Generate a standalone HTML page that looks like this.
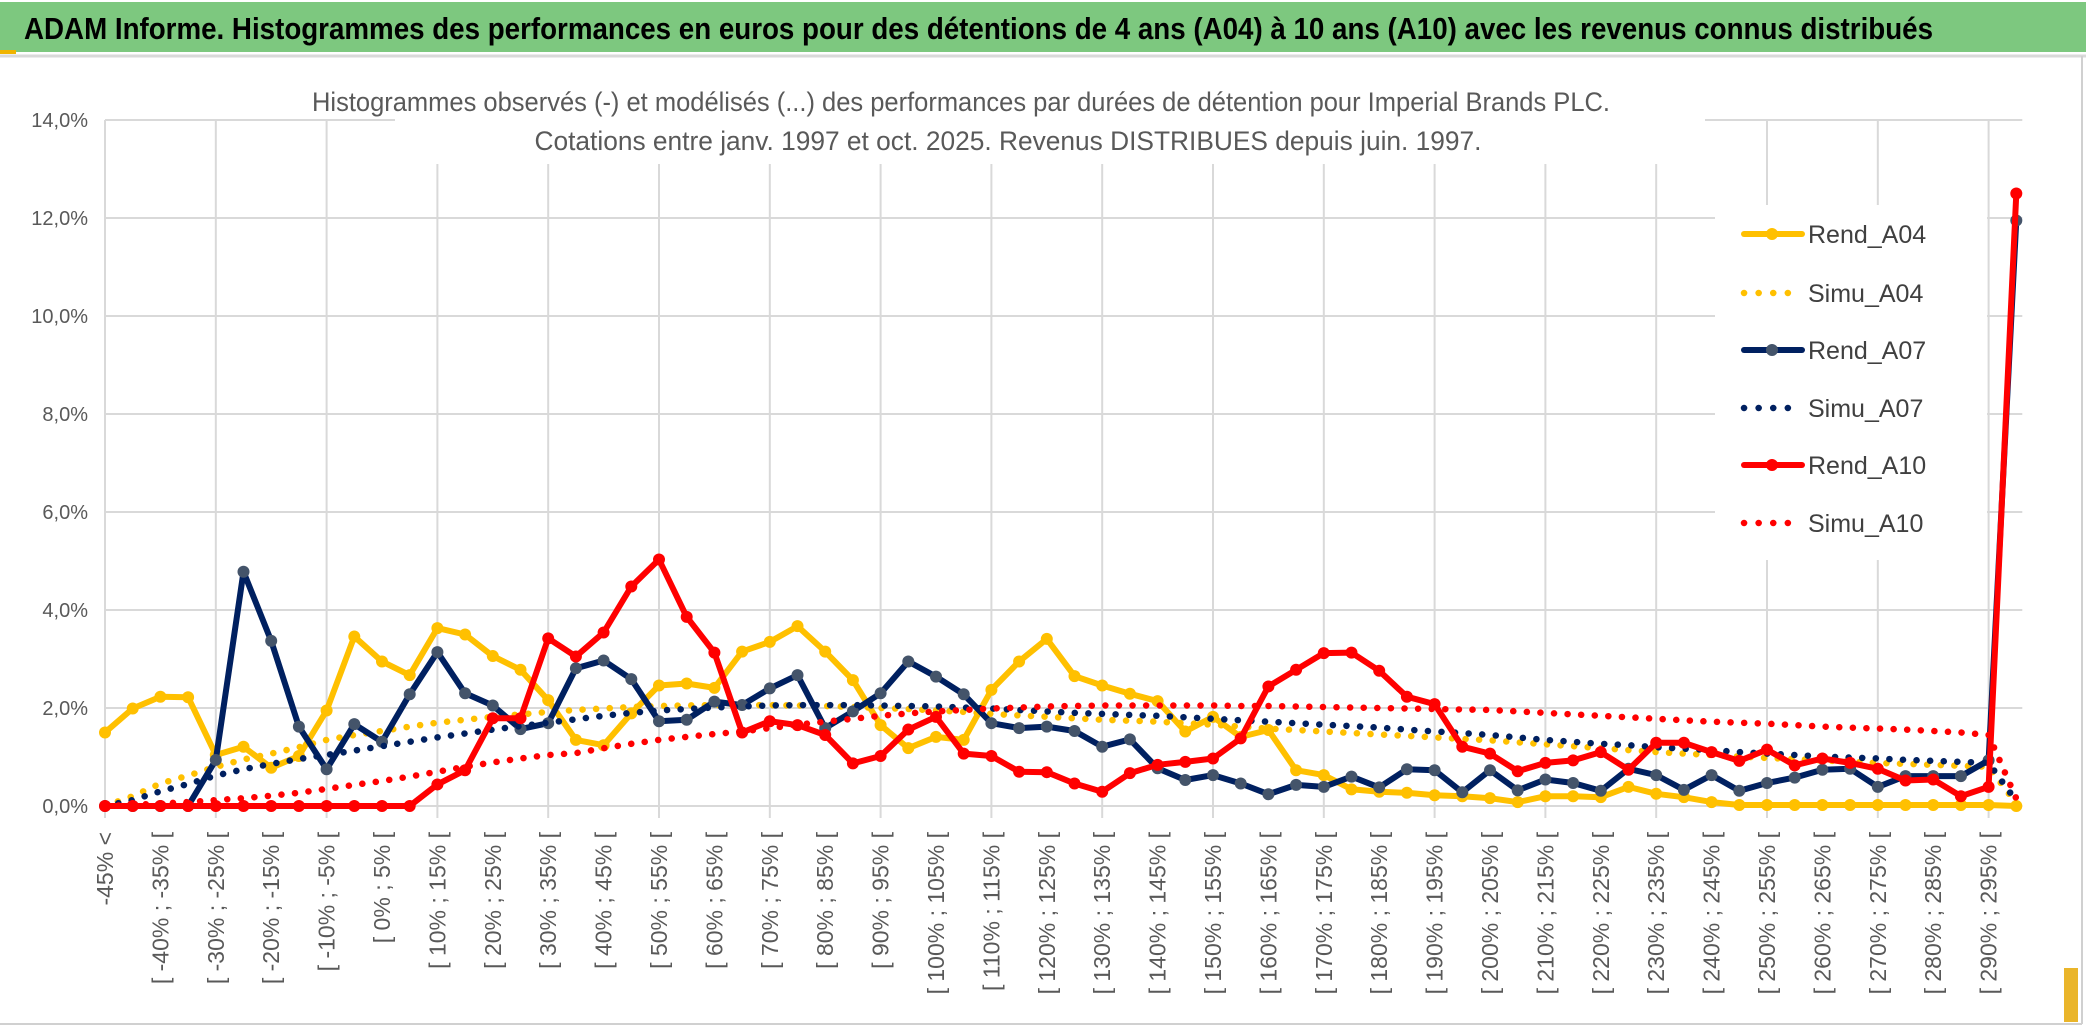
<!DOCTYPE html>
<html><head><meta charset="utf-8"><style>
html,body{margin:0;padding:0;background:#fff;width:2086px;height:1033px;overflow:hidden}
svg{display:block}
text{font-family:"Liberation Sans Narrow","Liberation Sans",sans-serif}
</style></head><body>
<svg id="chart" width="2086" height="1033" viewBox="0 0 2086 1033">
<rect x="0" y="0" width="2086" height="1033" fill="#fff"/>
<rect x="0" y="2" width="2086" height="50" fill="#7DC87F"/>
<line x1="0" y1="56" x2="2086" y2="56" stroke="#d9d9d9" stroke-width="3"/>
<rect x="0" y="50" width="16" height="4" fill="#f0b400"/>
<text x="24" y="39" font-size="31" font-weight="bold" fill="#000" textLength="1909" lengthAdjust="spacingAndGlyphs">ADAM Informe. Histogrammes des performances en euros pour des détentions de 4 ans (A04) à 10 ans (A10) avec les revenus connus distribués</text>
<line x1="2082" y1="56" x2="2082" y2="1024" stroke="#d0d0d0" stroke-width="2"/>
<line x1="0" y1="1024" x2="2082" y2="1024" stroke="#d0d0d0" stroke-width="2"/>
<rect x="2064" y="968" width="14" height="54" fill="#eab52a"/>
<g id="grid"></g>
<g id="yaxis"></g>
<g id="xaxis"></g>
<rect x="395" y="80" width="1310" height="84" fill="#fff"/>
<text x="961" y="111" font-size="27" fill="#595959" text-anchor="middle" textLength="1298" lengthAdjust="spacingAndGlyphs">Histogrammes observés (-) et modélisés (...) des performances par durées de détention pour Imperial Brands PLC.</text>
<text x="1008" y="150" font-size="27" fill="#595959" text-anchor="middle" textLength="947" lengthAdjust="spacingAndGlyphs">Cotations entre janv. 1997 et oct. 2025. Revenus DISTRIBUES depuis juin. 1997.</text>
<g id="series"></g>
<rect x="1715" y="205" width="272" height="355" fill="#fff"/>
<g id="legend"></g>
</svg>
<script>
const categories = ["-45% <","[ -45% ; -40% [","[ -40% ; -35% [","[ -35% ; -30% [","[ -30% ; -25% [","[ -25% ; -20% [","[ -20% ; -15% [","[ -15% ; -10% [","[ -10% ; -5% [","[ -5% ; 0% [","[ 0% ; 5% [","[ 5% ; 10% [","[ 10% ; 15% [","[ 15% ; 20% [","[ 20% ; 25% [","[ 25% ; 30% [","[ 30% ; 35% [","[ 35% ; 40% [","[ 40% ; 45% [","[ 45% ; 50% [","[ 50% ; 55% [","[ 55% ; 60% [","[ 60% ; 65% [","[ 65% ; 70% [","[ 70% ; 75% [","[ 75% ; 80% [","[ 80% ; 85% [","[ 85% ; 90% [","[ 90% ; 95% [","[ 95% ; 100% [","[ 100% ; 105% [","[ 105% ; 110% [","[ 110% ; 115% [","[ 115% ; 120% [","[ 120% ; 125% [","[ 125% ; 130% [","[ 130% ; 135% [","[ 135% ; 140% [","[ 140% ; 145% [","[ 145% ; 150% [","[ 150% ; 155% [","[ 155% ; 160% [","[ 160% ; 165% [","[ 165% ; 170% [","[ 170% ; 175% [","[ 175% ; 180% [","[ 180% ; 185% [","[ 185% ; 190% [","[ 190% ; 195% [","[ 195% ; 200% [","[ 200% ; 205% [","[ 205% ; 210% [","[ 210% ; 215% [","[ 215% ; 220% [","[ 220% ; 225% [","[ 225% ; 230% [","[ 230% ; 235% [","[ 235% ; 240% [","[ 240% ; 245% [","[ 245% ; 250% [","[ 250% ; 255% [","[ 255% ; 260% [","[ 260% ; 265% [","[ 265% ; 270% [","[ 270% ; 275% [","[ 275% ; 280% [","[ 280% ; 285% [","[ 285% ; 290% [","[ 290% ; 295% [","[ 295% ; 300% ["];
const yTicks = [0,2,4,6,8,10,12,14];
const yTickLabels = ["0,0%","2,0%","4,0%","6,0%","8,0%","10,0%","12,0%","14,0%"];
const rendA04 = [1.50,1.99,2.23,2.22,1.04,1.21,0.78,1.02,1.95,3.46,2.95,2.67,3.63,3.50,3.06,2.78,2.16,1.35,1.24,1.89,2.46,2.50,2.41,3.15,3.35,3.67,3.15,2.57,1.65,1.18,1.41,1.35,2.37,2.95,3.41,2.65,2.46,2.29,2.14,1.52,1.82,1.41,1.55,0.73,0.63,0.34,0.29,0.27,0.22,0.20,0.16,0.08,0.20,0.20,0.18,0.39,0.25,0.18,0.08,0.02,0.02,0.02,0.02,0.02,0.02,0.02,0.02,0.02,0.02,0.0];
const simuA04 = [0.0,0.2,0.46,0.62,0.8,0.95,1.07,1.2,1.35,1.45,1.53,1.62,1.70,1.76,1.82,1.87,1.92,1.96,1.99,2.02,2.04,2.05,2.06,2.06,2.06,2.05,2.04,2.02,2.0,1.98,1.95,1.92,1.88,1.85,1.82,1.79,1.76,1.74,1.72,1.69,1.66,1.62,1.58,1.55,1.52,1.49,1.46,1.43,1.40,1.37,1.34,1.30,1.26,1.22,1.18,1.14,1.10,1.07,1.04,1.01,0.98,0.96,0.93,0.90,0.88,0.86,0.84,0.82,0.8,0.05];
const rendA07 = [0,0,0,0,0.94,4.78,3.37,1.62,0.75,1.67,1.31,2.28,3.14,2.30,2.05,1.57,1.69,2.81,2.97,2.59,1.73,1.76,2.13,2.06,2.40,2.67,1.59,1.93,2.30,2.95,2.64,2.28,1.69,1.59,1.62,1.53,1.21,1.36,0.77,0.53,0.63,0.46,0.24,0.43,0.39,0.60,0.38,0.75,0.73,0.28,0.73,0.32,0.54,0.47,0.31,0.76,0.63,0.33,0.63,0.31,0.47,0.58,0.74,0.76,0.39,0.61,0.61,0.61,0.93,11.95];
const simuA07 = [0,0.12,0.3,0.45,0.62,0.75,0.86,0.96,1.04,1.13,1.22,1.31,1.40,1.48,1.56,1.63,1.70,1.77,1.84,1.90,1.95,1.98,2.01,2.03,2.05,2.06,2.06,2.06,2.05,2.04,2.03,2.01,1.99,1.96,1.93,1.90,1.88,1.86,1.84,1.81,1.78,1.75,1.72,1.69,1.66,1.63,1.60,1.56,1.52,1.49,1.45,1.40,1.35,1.31,1.27,1.24,1.20,1.17,1.14,1.10,1.07,1.04,1.01,0.99,0.97,0.94,0.92,0.90,0.88,0.1];
const rendA10 = [0,0,0,0,0,0,0,0,0,0,0,0,0.44,0.73,1.79,1.79,3.42,3.05,3.54,4.48,5.03,3.86,3.13,1.50,1.73,1.65,1.45,0.87,1.02,1.56,1.82,1.07,1.02,0.70,0.69,0.46,0.29,0.67,0.84,0.90,0.97,1.38,2.44,2.78,3.12,3.13,2.76,2.23,2.08,1.21,1.07,0.71,0.88,0.93,1.10,0.74,1.29,1.29,1.10,0.92,1.15,0.83,0.97,0.88,0.76,0.52,0.54,0.20,0.39,12.5];
const simuA10 = [0,0.02,0.05,0.08,0.12,0.16,0.21,0.27,0.35,0.43,0.51,0.60,0.70,0.80,0.89,0.97,1.04,1.08,1.18,1.27,1.35,1.41,1.47,1.52,1.59,1.66,1.72,1.78,1.84,1.89,1.93,1.96,1.99,2.01,2.03,2.04,2.05,2.05,2.05,2.05,2.05,2.04,2.04,2.03,2.02,2.01,2.0,1.99,1.98,1.97,1.96,1.93,1.90,1.87,1.84,1.81,1.78,1.75,1.72,1.70,1.68,1.65,1.62,1.60,1.58,1.56,1.53,1.50,1.45,0.15];
const seriesNames = ["Rend_A04","Simu_A04","Rend_A07","Simu_A07","Rend_A10","Simu_A10"];

const NS = "http://www.w3.org/2000/svg";
const X0 = 105, XSTEP = 27.7, Y0 = 806, YPER = 49;
function xScale(i){ return X0 + i * XSTEP; }
function yScale(v){ return Y0 - v * YPER; }
function mk(tag, attrs, parent){ const e = document.createElementNS(NS, tag); for (const k in attrs) e.setAttribute(k, attrs[k]); parent.appendChild(e); return e; }

const grid = document.getElementById('grid');
const yaxis = document.getElementById('yaxis');
const xaxis = document.getElementById('xaxis');
const xEnd = xScale(categories.length - 1) + 6;
yTicks.forEach((t, k) => {
  const gl = mk('line', {x1: X0, x2: xEnd, y1: yScale(t), y2: yScale(t), stroke: '#d9d9d9', 'stroke-width': 2}, grid);
  
  
  const lb = mk('text', {x: 88, y: yScale(t) + 7, 'font-size': 20, fill: '#595959', 'text-anchor': 'end'}, yaxis);
  lb.textContent = yTickLabels[k];
  
  
});
categories.forEach((c, i) => {
  if (i % 4 === 0) {
    const gl = mk('line', {x1: xScale(i), x2: xScale(i), y1: yScale(14), y2: Y0 + 12, stroke: '#d9d9d9', 'stroke-width': 2}, grid);
    
    
  }
  if (i % 2 === 0) {
    const x = xScale(i) + 8, y = 832;
    const lb = mk('text', {x: x, y: y, 'font-size': 23, fill: '#595959', 'text-anchor': 'end', transform: 'rotate(-90 ' + x + ' ' + y + ')', style: 'font-family:"Liberation Sans",sans-serif'}, xaxis);
    lb.textContent = c;
    
    
  }
});

const seriesLayer = document.getElementById('series');
function pathFrom(vals){ return vals.map((v, i) => (i ? 'L' : 'M') + xScale(i).toFixed(1) + ' ' + yScale(v).toFixed(1)).join(' '); }
function drawSolid(vals, color, markerColor, name){
  const g = mk('g', {}, seriesLayer);
  
  
  const p = mk('path', {d: pathFrom(vals), fill: 'none', stroke: color, 'stroke-width': 6, 'stroke-linejoin': 'round', 'stroke-linecap': 'round'}, g);
  
  
  vals.forEach((v, i) => {
    const m = mk('circle', {cx: xScale(i), cy: yScale(v), r: 6, fill: markerColor}, g);
    
    
  });
}
function drawDotted(vals, color, name){
  const p = mk('path', {d: pathFrom(vals), fill: 'none', stroke: color, 'stroke-width': 6.5, 'stroke-dasharray': '0.1 13.5', 'stroke-linecap': 'round', 'stroke-linejoin': 'round'}, seriesLayer);
  
  
}
drawSolid(rendA04, '#FFC000', '#FFC000', 'rend-a04');
drawDotted(simuA04, '#FFC000', 'simu-a04');
drawSolid(rendA07, '#002060', '#44546A', 'rend-a07');
drawDotted(simuA07, '#002060', 'simu-a07');
drawSolid(rendA10, '#FF0000', '#FF0000', 'rend-a10');
drawDotted(simuA10, '#FF0000', 'simu-a10');

const legend = document.getElementById('legend');
const legColors = ['#FFC000','#FFC000','#002060','#002060','#FF0000','#FF0000'];
const legMarker = ['#FFC000',null,'#44546A',null,'#FF0000',null];
const legY = [234, 293, 350, 408, 465, 523];
seriesNames.forEach((n, k) => {
  const g = mk('g', {}, legend);
  
  
  const y = legY[k];
  if (legMarker[k]) {
    mk('line', {x1: 1744, x2: 1802, y1: y, y2: y, stroke: legColors[k], 'stroke-width': 6, 'stroke-linecap': 'round'}, g);
    mk('circle', {cx: 1772, cy: y, r: 6, fill: legMarker[k]}, g);
  } else {
    mk('line', {x1: 1744, x2: 1800, y1: y, y2: y, stroke: legColors[k], 'stroke-width': 6.5, 'stroke-dasharray': '0.1 14.5', 'stroke-linecap': 'round'}, g);
  }
  const t = mk('text', {x: 1808, y: y + 9, 'font-size': 25, fill: '#404040'}, g);
  t.textContent = n;
  
  
});
</script>
</body></html>
